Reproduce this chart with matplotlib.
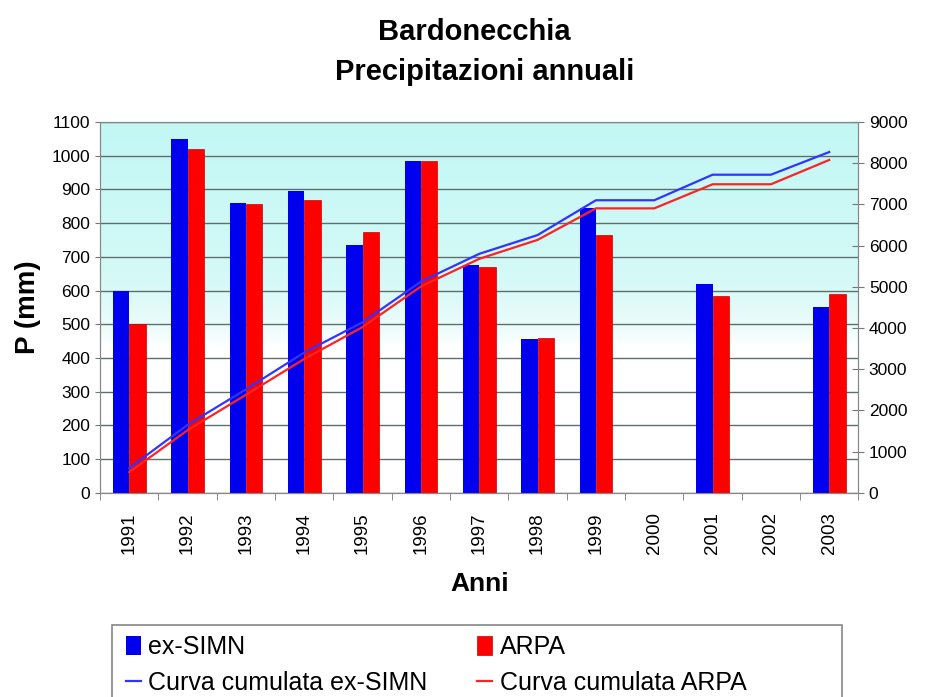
import matplotlib.pyplot as plt
import matplotlib.patches as patches
import numpy as np

# annual precipitation, Bardonecchia
anni = ['1991', '1992', '1993', '1994', '1995', '1996', '1997',
        '1998', '1999', '2000', '2001', '2002', '2003']
simn = [600, 1050, 860, 895, 735, 985, 675, 455, 845, np.nan, 620, np.nan, 550]
arpa = [500, 1020, 858, 870, 775, 985, 670, 460, 765, np.nan, 585, np.nan, 590]

plt.rcParams['font.family'] = ['Liberation Sans', 'DejaVu Sans']

x = np.arange(len(anni))
simn_cum = np.cumsum(np.nan_to_num(simn))
arpa_cum = np.cumsum(np.nan_to_num(arpa))

fig = plt.figure(figsize=(9.27, 6.97), dpi=100)
ax = fig.add_axes([0.108, 0.293, 0.818, 0.532])

# pale aqua top, fading to white below ~450 mm
v = np.linspace(1100, 0, 400)
t = np.clip((v - 440) / 190, 0, 1) ** 0.6
top = np.array([0.76, 0.97, 0.96])
mid = np.array([0.84, 0.98, 0.97])
k = np.clip((v - 600) / 500, 0, 1)[:, None]
cyan = mid * (1 - k) + top * k
img = (1 - t[:, None]) * 1.0 + t[:, None] * cyan
img = img[:, None, :]
ax.imshow(img, extent=[-0.5, len(anni) - 0.5, 0, 1100], aspect='auto',
          origin='upper', zorder=0)

w = 0.28
ax.bar(x - w / 2, simn, w, color='#0000ee', zorder=3, label='ex-SIMN')
ax.bar(x + w / 2, arpa, w, color='#ff0000', edgecolor='#cc0000',
       linewidth=0.5, zorder=3, label='ARPA')

ax.set_xlim(-0.5, len(anni) - 0.5)
ax.set_ylim(0, 1100)
ax.set_yticks(range(0, 1101, 100))
ax.yaxis.grid(True, color='#5f6f6f', linewidth=1.0, zorder=1)
ax.set_axisbelow(True)
ax.set_xticks(x)
ax.set_xticklabels(anni, rotation=90, fontsize=13.5)
ax.set_xticks(np.arange(-0.5, len(anni), 1), minor=True)
ax.tick_params(axis='x', which='major', length=0, pad=14)
ax.tick_params(axis='x', which='minor', length=5, color='#777777')
ax.tick_params(axis='y', labelsize=12.5, color='#777777')
for s in ax.spines.values():
    s.set_color('#888888')

ax.set_ylabel('P (mm)', fontsize=20, fontweight='bold', labelpad=8)
ax.set_xlabel('Anni', fontsize=19, fontweight='bold', labelpad=13)
fig.text(0.512, 0.954, 'Bardonecchia', fontsize=21, fontweight='bold',
         ha='center', va='center')
fig.text(0.523, 0.897, 'Precipitazioni annuali', fontsize=21,
         fontweight='bold', ha='center', va='center')

ax2 = ax.twinx()
ax2.plot(x, simn_cum, color='#3333ff', linewidth=1.6, zorder=4,
         label='Curva cumulata ex-SIMN')
ax2.plot(x, arpa_cum, color='#ff2222', linewidth=1.6, zorder=4,
         label='Curva cumulata ARPA')
ax2.set_ylim(0, 9000)
ax2.set_yticks(range(0, 9001, 1000))
ax2.tick_params(axis='y', labelsize=12.5, color='#777777', direction='inout',
                length=8)
for s in ax2.spines.values():
    s.set_color('#888888')

# legend box drawn by hand, entries without frame
box = patches.Rectangle((112 / 927, -0.02), 730 / 927, 0.02 + 72 / 697,
                        transform=fig.transFigure, facecolor='white',
                        edgecolor='#888888', linewidth=1.2)
fig.patches.append(box)

h1, l1 = ax.get_legend_handles_labels()
h2, l2 = ax2.get_legend_handles_labels()
handles = [h1[0], h2[0], h1[1], h2[1]]
labels = [l1[0], l2[0], l1[1], l2[1]]
leg = fig.legend(handles, labels, ncol=2, loc='upper left',
                 bbox_to_anchor=(113 / 927, 1 - 623 / 697),
                 bbox_transform=fig.transFigure,
                 fontsize=18, frameon=False,
                 handlelength=0.6, handleheight=0.8, handletextpad=0.3,
                 columnspacing=2.0, borderpad=0, labelspacing=0.45)

fig.savefig('out.png', dpi=100)
